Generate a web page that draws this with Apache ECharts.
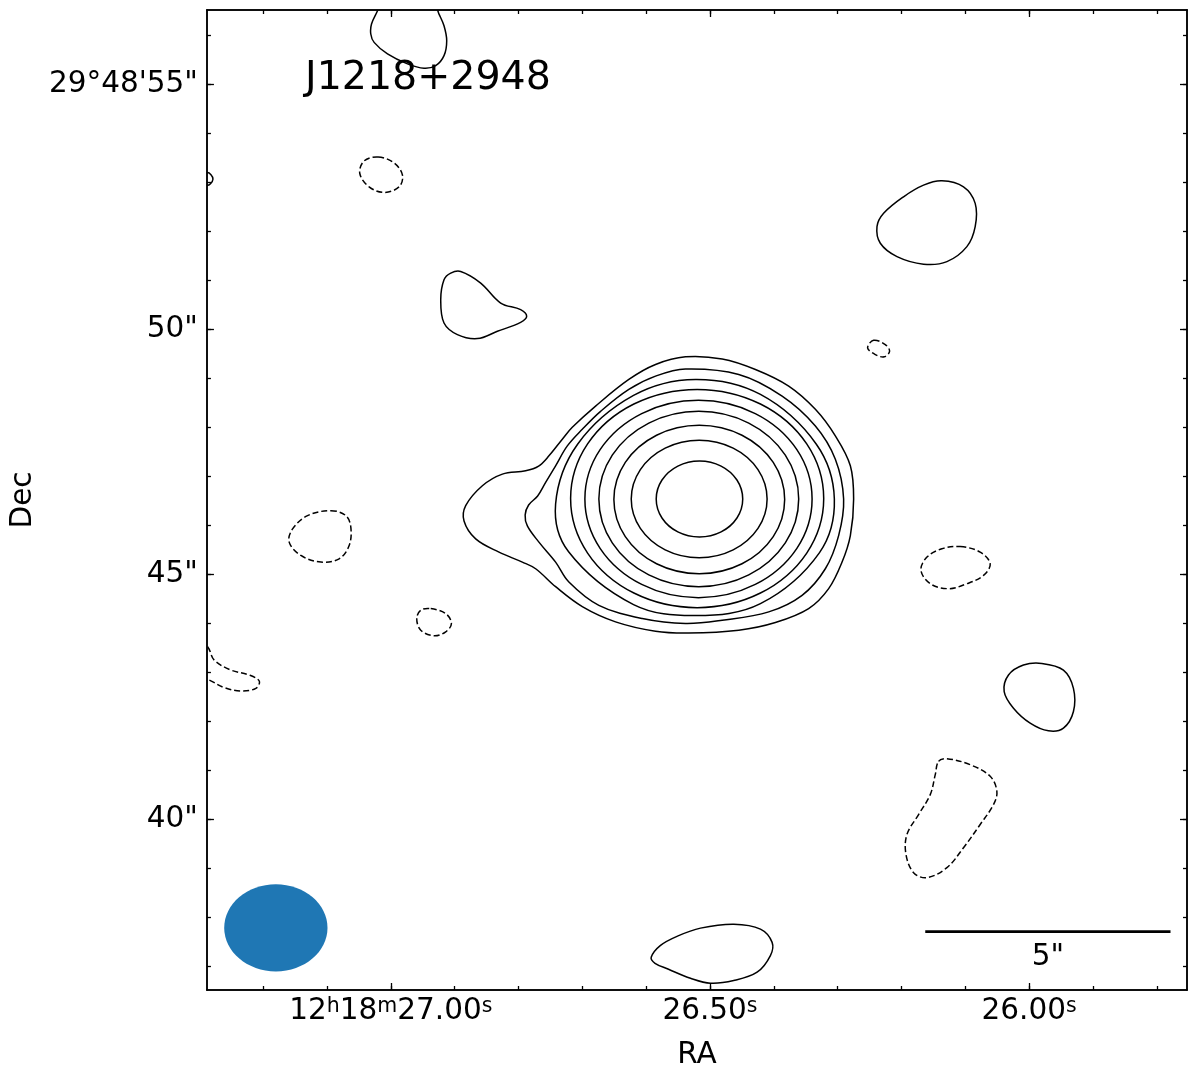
<!DOCTYPE html>
<html>
<head>
<meta charset="utf-8">
<script src="https://cdn.jsdelivr.net/npm/echarts@6/dist/echarts.min.js"></script>
<style>html,body{margin:0;padding:0;background:#fff}#c{width:1200px;height:1075px}</style>
</head>
<body>
<div id="c"></div>
<script>
// ---------- axes (RA in seconds of 12h18m, Dec in arcsec beyond +29d48') ----------
const RA_MIN = 25.75274, RA_MAX = 27.28795;
const DEC_MIN = 36.5187, DEC_MAX = 56.5106;
const RA_MAJOR = [26.0, 26.5, 27.0];
const RA_MINOR = [25.8, 25.9, 26.0, 26.1, 26.2, 26.3, 26.4, 26.5, 26.6, 26.7, 26.8, 26.9, 27.0, 27.1, 27.2];
const DEC_MAJOR = [40, 45, 50, 55];
const DEC_MINOR = [37, 38, 39, 40, 41, 42, 43, 44, 45, 46, 47, 48, 49, 50, 51, 52, 53, 54, 55, 56];
const TITLE = 'J1218+2948';

// reference position of the offsets (peak), and declination used for RA scaling
const RA0 = 26.5172, DEC0 = 46.535;
const DEC_DEG = 29 + 48 / 60 + 46.5 / 3600;
const ARCSEC_PER_S = 15 * Math.cos(DEC_DEG * Math.PI / 180);

// ---------- contours: [east offset ", north offset "] from (RA0, DEC0) ----------
const RING1 = [[-0.892,0],[-0.774,0.388],[-0.451,0.672],[-0.010,0.776],[0.431,0.672],[0.754,0.388],[0.872,0],[0.754,-0.388],[0.431,-0.672],[-0.010,-0.776],[-0.451,-0.672],[-0.774,-0.388]];
const RING2 = [[-1.389,0],[-1.203,0.600],[-0.697,1.038],[-0.004,1.199],[0.689,1.038],[1.195,0.600],[1.381,0],[1.195,-0.600],[0.689,-1.038],[-0.004,-1.199],[-0.697,-1.038],[-1.203,-0.600]];
const RING3 = [[-1.747,-0.010],[-1.514,0.747],[-0.877,1.301],[-0.006,1.504],[0.865,1.301],[1.502,0.747],[1.735,-0.010],[1.502,-0.767],[0.865,-1.321],[-0.006,-1.524],[-0.877,-1.321],[-1.514,-0.767]];
const RING4 = [[-2.033,0],[-1.760,0.895],[-1.015,1.549],[0.004,1.789],[1.023,1.549],[1.768,0.895],[2.041,0],[1.768,-0.895],[1.023,-1.549],[0.004,-1.789],[-1.015,-1.549],[-1.760,-0.895]];
const RING5 = [[-2.306,0],[-1.996,1.006],[-1.148,1.742],[0.010,2.012],[1.168,1.742],[2.016,1.006],[2.326,0],[2.016,-1.006],[1.168,-1.742],[0.010,-2.012],[-1.148,-1.742],[-1.996,-1.006]];
const RING6 = [[-2.543,0.010],[-2.197,1.123],[-1.253,1.938],[0.037,2.236],[1.327,1.938],[2.271,1.123],[2.617,0.010],[2.271,-1.103],[1.327,-1.918],[0.037,-2.216],[-1.253,-1.918],[-2.197,-1.103]];
const RING7 = [[-2.760,0],[-2.393,1.118],[-1.253,2.134],[0.071,2.439],[1.334,2.114],[2.475,1.118],[2.923,-0.102],[2.658,-1.077],[1.334,-2.154],[0.071,-2.378],[-1.253,-2.134],[-2.454,-1.098]];
const RING8 = [[0.275,2.652],[-0.811,2.541],[-1.695,2.100],[-2.373,1.490],[-2.780,0.813],[-2.949,0],[-2.847,-0.746],[-2.576,-1.423],[-2.102,-1.965],[-1.422,-2.303],[-0.473,-2.474],[0.275,-2.541],[1.157,-2.439],[2.041,-2.169],[2.652,-1.693],[2.923,-1.287],[3.263,-0.880],[3.499,-0.549],[3.544,-0.325],[3.473,-0.122],[3.289,0.061],[3.126,0.339],[2.923,0.677],[2.684,1.083],[2.379,1.423],[2.006,1.789],[1.430,2.236],[0.886,2.506]];
const RING9 = [[0.275,2.900],[-0.473,2.856],[-1.151,2.642],[-1.829,2.303],[-2.373,1.829],[-2.780,1.287],[-3.086,0.677],[-3.153,0],[-3.086,-0.746],[-2.917,-1.287],[-2.644,-1.829],[-2.236,-2.236],[-1.558,-2.520],[-0.811,-2.677],[0.208,-2.734],[0.886,-2.697],[1.701,-2.506],[2.379,-2.195],[2.923,-1.789],[3.330,-1.423],[3.601,-1.287],[4.077,-1.083],[4.552,-0.813],[4.790,-0.447],[4.756,-0.136],[4.416,0.270],[4.008,0.508],[3.534,0.575],[3.269,0.671],[3.059,0.880],[2.786,1.220],[2.583,1.463],[2.108,1.896],[1.430,2.439],[0.886,2.744]];
const BLOB_TOP = [[6.554,9.959],[6.676,9.689],[6.691,9.486],[6.623,9.315],[6.350,9.079],[5.943,8.876],[5.605,8.787],[5.367,8.841],[5.198,9.045],[5.143,9.350],[5.198,9.654],[5.300,9.892],[5.387,10.081],[5.672,10.244],[6.283,10.244],[6.507,10.101]];
const BLOB_EDGE = [[10.031,6.656],[9.949,6.616],[9.909,6.524],[9.959,6.433],[10.031,6.402],[10.173,6.524]];
const NEG_NW = [[6.542,6.978],[6.216,6.856],[6.045,6.606],[6.114,6.368],[6.420,6.254],[6.725,6.368],[6.915,6.640],[6.827,6.896]];
const BLOB_NW = [[4.858,4.640],[4.450,4.404],[4.043,3.998],[3.636,3.862],[3.513,3.726],[3.636,3.604],[4.110,3.421],[4.517,3.272],[4.925,3.354],[5.198,3.591],[5.265,4.065],[5.198,4.472],[5.061,4.608]];
const NEG_W = [[7.505,-0.238],[7.200,-0.339],[7.098,-0.575],[7.132,-0.949],[7.336,-1.220],[7.709,-1.287],[8.116,-1.152],[8.355,-0.880],[8.285,-0.610],[7.980,-0.339]];
const NEG_SW = [[5.469,-2.236],[5.163,-2.337],[5.047,-2.541],[5.163,-2.709],[5.401,-2.791],[5.672,-2.677],[5.754,-2.439],[5.672,-2.270]];
const NEG_EDGE = [[10.017,-3.014],[9.882,-3.287],[9.542,-3.490],[9.169,-3.591],[8.965,-3.713],[9.033,-3.862],[9.338,-3.917],[9.678,-3.848],[9.984,-3.693],[10.234,-3.618],[10.234,-2.846]];
const BLOB_NE = [[-4.953,6.490],[-5.393,6.368],[-5.631,6.030],[-5.631,5.555],[-5.462,5.148],[-5.055,4.843],[-4.578,4.791],[-4.037,4.945],[-3.697,5.217],[-3.629,5.555],[-3.764,5.827],[-4.171,6.165],[-4.578,6.402]];
const NEG_NE = [[-3.560,3.238],[-3.798,3.150],[-3.886,3.014],[-3.778,2.900],[-3.595,2.947],[-3.438,3.083]];
const NEG_E = [[-5.326,-0.970],[-5.733,-1.083],[-5.937,-1.321],[-5.801,-1.559],[-5.462,-1.728],[-5.088,-1.829],[-4.715,-1.728],[-4.526,-1.457],[-4.648,-1.185],[-4.953,-1.016]];
const BLOB_SE = [[-6.990,-3.354],[-7.430,-3.490],[-7.634,-3.862],[-7.634,-4.335],[-7.430,-4.675],[-7.124,-4.730],[-6.752,-4.573],[-6.412,-4.268],[-6.222,-3.929],[-6.310,-3.591],[-6.615,-3.388]];
const NEG_SE = [[-4.884,-5.352],[-5.055,-5.299],[-5.530,-5.421],[-5.937,-5.657],[-6.073,-5.961],[-6.004,-6.234],[-5.733,-6.640],[-5.393,-7.114],[-5.055,-7.520],[-4.648,-7.724],[-4.375,-7.622],[-4.220,-7.250],[-4.240,-6.843],[-4.477,-6.437],[-4.715,-6.030],[-4.817,-5.624]];
const BLOB_S = [[0.974,-9.350],[0.784,-9.106],[0.438,-8.917],[-0.031,-8.754],[-0.709,-8.673],[-1.253,-8.774],[-1.491,-9.045],[-1.456,-9.315],[-1.185,-9.654],[-0.709,-9.823],[-0.234,-9.878],[0.173,-9.776],[0.621,-9.593],[0.896,-9.471]];

const POSITIVE = [RING1, RING2, RING3, RING4, RING5, RING6, RING7, RING8, RING9, BLOB_TOP, BLOB_EDGE, BLOB_NW, BLOB_NE, BLOB_SE, BLOB_S];
const NEGATIVE = [NEG_NW, NEG_W, NEG_SW, NEG_EDGE, NEG_NE, NEG_E, NEG_SE];

// ---------- beam and scale bar ----------
const BEAM = {ra: 27.180, dec: 37.787, bmaj: 2.106, bmin: 1.779};
const SCALEBAR = {ra: 26.16275, dec: 37.710, length: 5, label: '5"'};

const FONT = 'DejaVu Sans';
const toSky = p => [RA0 + p[0] / ARCSEC_PER_S, DEC0 + p[1]];
const CONTOURS = POSITIVE.map(p => ({pts: p, neg: false})).concat(NEGATIVE.map(p => ({pts: p, neg: true})));

function raFmt(v) {
  const k = Math.round(v * 100);
  if (k === 2700) return '12{sup|h}18{sup|m}27.00{sup|s}';
  return (k / 100).toFixed(2) + '{sup|s}';
}
function decFmt(v) {
  const k = Math.round(v);
  return k === 55 ? '29°48\'55"' : k + '"';
}

const lineBlack = {color: '#000', width: 1.5};
const tickStyle = {color: '#000', width: 1.3};
function xAx(pos, vals, len, labels) {
  return {
    type: 'value', min: RA_MIN, max: RA_MAX, inverse: true, position: pos,
    axisLine: {show: true, onZero: false, lineStyle: lineBlack},
    axisTick: {show: true, inside: true, length: len, lineStyle: tickStyle, customValues: vals},
    axisLabel: labels ? {
      show: true, customValues: vals, margin: 6, formatter: raFmt, color: '#000',
      fontSize: 29.5, fontFamily: FONT, lineHeight: 30,
      rich: {sup: {fontSize: 20.5, lineHeight: 12, verticalAlign: 'top', fontFamily: FONT, color: '#000'}}
    } : {show: false},
    splitLine: {show: false},
    name: labels ? 'RA' : '', nameLocation: 'middle', nameGap: 50,
    nameTextStyle: {color: '#000', fontSize: 29.5, fontFamily: FONT}
  };
}
function yAx(pos, vals, len, labels) {
  return {
    type: 'value', min: DEC_MIN, max: DEC_MAX, position: pos,
    axisLine: {show: true, onZero: false, lineStyle: lineBlack},
    axisTick: {show: true, inside: true, length: len, lineStyle: tickStyle, customValues: vals},
    axisLabel: labels ? {
      show: true, customValues: vals, margin: 9, formatter: decFmt, color: '#000',
      fontSize: 29.5, fontFamily: FONT
    } : {show: false},
    splitLine: {show: false},
    name: labels ? 'Dec' : '', nameLocation: 'middle', nameGap: 168, nameRotate: 90,
    nameTextStyle: {color: '#000', fontSize: 29.5, fontFamily: FONT}
  };
}

const chart = echarts.init(document.getElementById('c'), null, {renderer: 'canvas'});
chart.setOption({
  animation: false,
  backgroundColor: '#fff',
  title: {text: TITLE, left: 305, top: 59, padding: 0,
    textStyle: {fontSize: 39.5, fontWeight: 'normal', color: '#000', fontFamily: FONT}},
  grid: {left: 206, top: 10, width: 981, height: 982, containLabel: false},
  xAxis: [xAx('bottom', RA_MAJOR, 7, true), xAx('bottom', RA_MINOR, 4, false),
          xAx('top', RA_MAJOR, 7, false), xAx('top', RA_MINOR, 4, false)],
  yAxis: [yAx('left', DEC_MAJOR, 7, true), yAx('left', DEC_MINOR, 4, false),
          yAx('right', DEC_MAJOR, 7, false), yAx('right', DEC_MINOR, 4, false)],
  series: [
    {
      type: 'custom', xAxisIndex: 0, yAxisIndex: 0, silent: true,
      data: CONTOURS.map(c => toSky(c.pts[0])),
      encode: {x: 0, y: 1},
      renderItem: function (params, api) {
        const c = CONTOURS[params.dataIndex];
        const pts = c.pts.map(p => api.coord(toSky(p)));
        const cs = params.coordSys;
        return {
          type: 'polygon',
          shape: {points: pts, smooth: 0.36},
          style: {fill: 'none', stroke: '#000', lineWidth: 1.5, lineDash: c.neg ? [6, 3] : null},
          clipPath: {type: 'rect', shape: {x: cs.x, y: cs.y, width: cs.width, height: cs.height}}
        };
      }
    },
    {
      type: 'custom', xAxisIndex: 0, yAxisIndex: 0, silent: true,
      data: [[BEAM.ra, BEAM.dec, BEAM.bmaj, BEAM.bmin]],
      encode: {x: 0, y: 1},
      renderItem: function (params, api) {
        const ra = api.value(0), dec = api.value(1);
        const c = api.coord([ra, dec]);
        const e = api.coord([ra - api.value(2) / 2 / ARCSEC_PER_S, dec]);
        const n = api.coord([ra, dec + api.value(3) / 2]);
        return {type: 'ellipse',
          shape: {cx: c[0], cy: c[1], rx: Math.abs(e[0] - c[0]), ry: Math.abs(n[1] - c[1])},
          style: {fill: '#1f77b4'}};
      }
    },
    {
      type: 'custom', xAxisIndex: 0, yAxisIndex: 0, silent: true,
      data: [[SCALEBAR.ra, SCALEBAR.dec, SCALEBAR.length]],
      encode: {x: 0, y: 1},
      renderItem: function (params, api) {
        const ra = api.value(0), dec = api.value(1);
        const p0 = api.coord([ra, dec]);
        const p1 = api.coord([ra - api.value(2) / ARCSEC_PER_S, dec]);
        return {type: 'group', children: [
          {type: 'line', shape: {x1: p0[0], y1: p0[1], x2: p1[0], y2: p1[1]},
            style: {stroke: '#000', lineWidth: 2.7}},
          {type: 'text', x: (p0[0] + p1[0]) / 2, y: p0[1] + 26,
            style: {text: SCALEBAR.label, fill: '#000', font: '29.5px "DejaVu Sans"',
              align: 'center', verticalAlign: 'middle'}}
        ]};
      }
    }
  ]
});
</script>
</body>
</html>
